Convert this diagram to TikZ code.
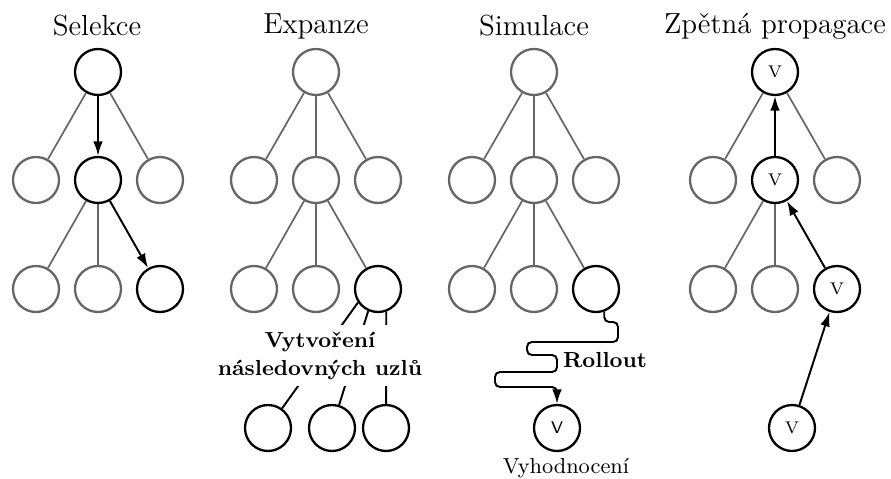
\documentclass[tikz,border=0pt]{standalone}
\usetikzlibrary{arrows.meta}
\pgfdeclarelayer{background}
\pgfsetlayers{background,main}
\tikzset{
  gnode/.style={circle, draw=black!60, line width=0.95pt, minimum size=19pt, inner sep=0pt, font=\scriptsize},
  bnode/.style={gnode, draw=black},
  gedge/.style={draw=black!60, line width=0.7pt},
  bline/.style={draw=black, line width=0.8pt},
  barrow/.style={bline, -{Latex[length=6pt,width=4pt]}},
  ttl/.style={font=\large},
  lbl/.style={font=\bfseries\fontsize{9}{11.6}\selectfont}
}
\begin{document}
\begin{tikzpicture}[x=0.4132pt, y=-0.4132pt]
\useasboundingbox (0,0) rectangle (891,478);
% titles
\node[ttl] (t1) at (97,26) {Selekce};
\node[ttl] (t2) at (316,26) {Expanze};
\node[ttl] (t3) at (534,26) {Simulace};
\node[ttl] (t4) at (775,26) {Zpětná propagace};
% ---- Selekce
\node[bnode] (s0) at (98,72) {};
\node[gnode] (s1) at (36,180) {};
\node[bnode] (s2) at (98,180) {};
\node[gnode] (s3) at (160,180) {};
\node[gnode] (s4) at (36,289) {};
\node[gnode] (s5) at (98,289) {};
\node[bnode] (s6) at (160,289) {};
\draw[gedge] (s0) -- (s1);
\draw[gedge] (s0) -- (s3);
\draw[gedge] (s2) -- (s4);
\draw[gedge] (s2) -- (s5);
\draw[barrow] (s0) -- (s2);
\draw[barrow] (s2) -- (s6);
% ---- Expanze
\node[gnode] (e0) at (316,72) {};
\node[gnode] (e1) at (254,180) {};
\node[gnode] (e2) at (316,180) {};
\node[gnode] (e3) at (378,180) {};
\node[gnode] (e4) at (254,289) {};
\node[gnode] (e5) at (316,289) {};
\node[bnode] (e6) at (378,289) {};
\draw[gedge] (e0) -- (e1);
\draw[gedge] (e0) -- (e2);
\draw[gedge] (e0) -- (e3);
\draw[gedge] (e2) -- (e4);
\draw[gedge] (e2) -- (e5);
\draw[gedge] (e2) -- (e6);
\node[bnode] (c1) at (268,428) {};
\node[bnode] (c2) at (332,428) {};
\node[bnode] (c3) at (386,428) {};
\node[lbl, fill=white, align=center, inner xsep=3pt, inner ysep=2.9pt] (lab) at (320,355.5) {Vytvoření\\následovných uzlů};
\begin{pgfonlayer}{background}
\draw[bline] (e6.214) -- (c1);
\draw[bline] (e6.246) -- (c2);
\draw[bline] (e6.-70) -- (c3);
\end{pgfonlayer}
% ---- Simulace
\node[gnode] (m0) at (534,72) {};
\node[gnode] (m1) at (472,180) {};
\node[gnode] (m2) at (534,180) {};
\node[gnode] (m3) at (596,180) {};
\node[gnode] (m4) at (472,289) {};
\node[gnode] (m5) at (534,289) {};
\node[bnode] (m6) at (596,289) {};
\draw[gedge] (m0) -- (m1);
\draw[gedge] (m0) -- (m2);
\draw[gedge] (m0) -- (m3);
\draw[gedge] (m2) -- (m4);
\draw[gedge] (m2) -- (m5);
\draw[gedge] (m2) -- (m6);
\node[bnode, font=\sffamily\scriptsize] (mv) at (557,428) {V};
\draw[barrow, rounded corners=2pt] (m6.-70) |- (618,322) -- (618,342) -- (527,342) -- (527,355) -- (557,355) -- (557,372) -- (495,372) -- (495,387) -- (557,387) -- (mv);
\node[lbl] (ro) at (605,360) {Rollout};
\node[font=\small, anchor=base] (vh) at (566,473) {Vyhodnocení};
% ---- Zpetna propagace
\node[bnode] (z0) at (775,72) {V};
\node[gnode] (z1) at (713,180) {};
\node[bnode] (z2) at (775,180) {V};
\node[gnode] (z3) at (837,180) {};
\node[gnode] (z4) at (713,289) {};
\node[gnode] (z5) at (775,289) {};
\node[bnode] (z6) at (837,289) {V};
\node[bnode] (zv) at (792,428) {V};
\draw[gedge] (z0) -- (z1);
\draw[gedge] (z0) -- (z3);
\draw[gedge] (z2) -- (z4);
\draw[gedge] (z2) -- (z5);
\draw[barrow] (z2) -- (z0);
\draw[barrow] (z6) -- (z2);
\draw[barrow] (zv) -- (z6);
\end{tikzpicture}
\end{document}
